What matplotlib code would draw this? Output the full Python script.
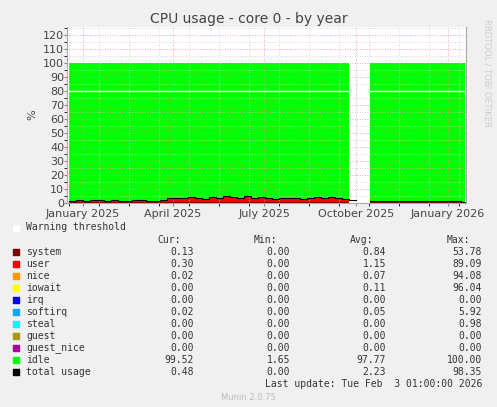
import numpy as np
import matplotlib
matplotlib.use("Agg")
import matplotlib.pyplot as plt

# weekly samples, days relative to 2025-01-01
days = list(range(-14, 383, 7)) + [382]
user = [1.2,1.5,1.3,1.6,1.4,1.2,1.5,1.3,1.1,1.4,1.6,1.2,1.3,
        1.8,3.2,3.5,3.0,3.8,3.4,2.6,4.2,3.1,4.8,3.6,3.2,4.5,3.0,
        4.1,3.3,2.8,3.2,2.9,3.0,2.7,3.4,3.8,3.5,4.0,3.2,2.2,1.5,
        np.nan,np.nan,
        0.8,0.7,0.8,0.9,0.8,0.7,0.9,0.8,0.7,0.8,0.7,0.8,0.7,0.6,0.6]
system = [0.4]*len(days)
labels = ["system","user","nice","iowait","irq","softirq","steal","guest","guest_nice","idle","total usage"]
colors = ["#7f0000","#ff0000","#ff9900","#ffff00","#0000ff","#00aaff","#00ffff","#aa9900","#aa0099","#00ff00","#000000"]
cur = ["0.13","0.30","0.02","0.00","0.00","0.02","0.00","0.00","0.00","99.52","0.48"]
mn  = ["0.00","0.00","0.00","0.00","0.00","0.00","0.00","0.00","0.00","1.65","0.00"]
avg = ["0.84","1.15","0.07","0.11","0.00","0.05","0.00","0.00","0.00","97.77","2.23"]
mx  = ["53.78","89.09","94.08","96.04","0.00","5.92","0.98","0.00","0.00","100.00","98.35"]
tick_days = [0, 90, 181, 273, 365]
tick_labels = ["January 2025","April 2025","July 2025","October 2025","January 2026"]

x = np.array(days, float)
u = np.array(user, float); s = np.array(system, float)
s[np.isnan(u)] = np.nan
low = s + u

fig = plt.figure(figsize=(4.97,4.07), dpi=100, facecolor="#f0f0f0")
ax = fig.add_axes([67/497, 1-203/407, 399/497, 176/407])
ax.set_facecolor("white")
ax.set_xlim(-16, 383); ax.set_ylim(0, 125.7)
kw = dict(step="post")
fin = np.isfinite(low)
ax.fill_between(x, 0, s, color=colors[0], lw=0, **kw)
ax.fill_between(x, s, low, color=colors[1], lw=0, **kw)
ax.fill_between(x, np.where(fin, low, 0), 100, color=colors[9], lw=0, where=fin, **kw)
ax.step(x, low, where="post", color="black", lw=0.8)
ax.axhline(80, color="white", lw=1)
ax.set_yticks(range(0,121,10))
ax.set_xticks(tick_days); ax.set_xticklabels(tick_labels)
ax.set_xticks(range(-14,383,30), minor=True)
ax.set_yticks(range(0,126,5), minor=True)
ax.grid(True, which="minor", color="#cccccc", ls=(0,(1,2)), lw=0.6)
ax.grid(True, which="major", color="#e09090", ls=(0,(1,2)), lw=0.6)
ax.tick_params(labelsize=8, color="#888888", length=2, pad=1, colors="#444444")
ax.tick_params(axis="y", pad=0)
ax.tick_params(axis="x", pad=2)
ax.spines["top"].set_visible(False)
for sp in ["left","bottom","right"]: ax.spines[sp].set_color("#aaaaaa")
ax.set_ylabel("%", fontsize=8, color="#444444")
fig.text(0.5, 1-19/407, "CPU usage - core 0 - by year", ha="center", va="center", fontsize=10, color="#444444")
fig.text(487/497, 0.82, "RRDTOOL / TOBI OETIKER", rotation=270, fontsize=6, color="#cccccc", ha="center", va="center")

mono = dict(family="DejaVu Sans Mono", fontsize=7, color="#333333", va="center")
def Y(p): return 1-p/407
fig.patches.append(plt.Rectangle((13/497, Y(231)), 6/497, 6/407, transform=fig.transFigure, color="white"))
fig.text(26/497, Y(227), "Warning threshold", **mono)
for t, xr in zip(["Cur:","Min:","Avg:","Max:"], [181,277,373,470]):
    fig.text(xr/497, Y(240), t, ha="right", **mono)
for i, lab in enumerate(labels):
    yy = 252 + 12*i
    fig.patches.append(plt.Rectangle((13/497, Y(yy+3)), 6/497, 6/407, transform=fig.transFigure, color=colors[i]))
    fig.text(26/497, Y(yy), lab, **mono)
    for v, xr in zip([cur[i], mn[i], avg[i], mx[i]], [194,290,386,482]):
        fig.text(xr/497, Y(yy), v, ha="right", **mono)
fig.text(482/497, Y(384), "Last update: Tue Feb  3 01:00:00 2026", ha="right", **mono)
fig.text(0.5, Y(397), "Munin 2.0.75", ha="center", fontsize=6, color="#bbbbbb", va="center")
fig.savefig("out.png", dpi=100, facecolor=fig.get_facecolor())
